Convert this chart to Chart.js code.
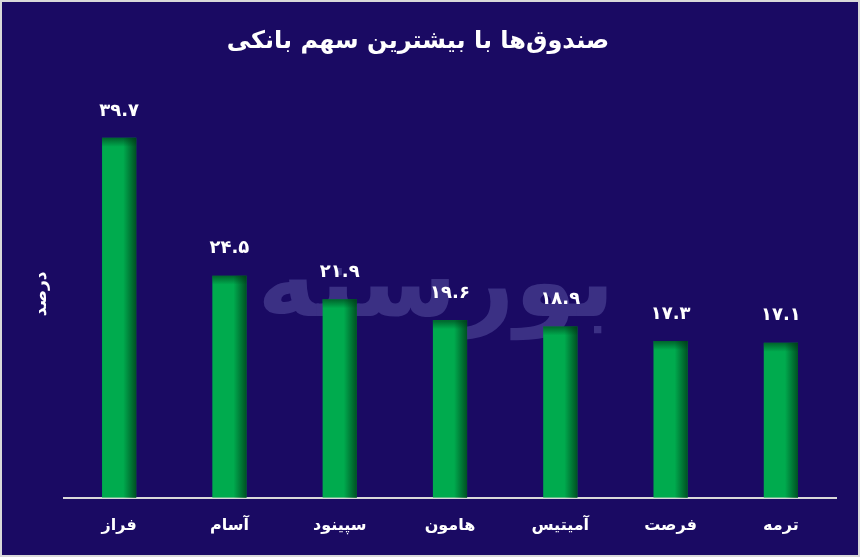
<!DOCTYPE html>
<html>
<head>
<meta charset="utf-8">
<script src="https://cdn.jsdelivr.net/npm/chart.js@4/dist/chart.umd.min.js"></script>
<style>
  html, body { margin: 0; padding: 0; background: #1a0a63; }
  #wrap { width: 860px; height: 557px; }
</style>
</head>
<body>
<div id="wrap"><canvas id="chart" width="860" height="557"></canvas></div>
<script>
const funds = ["فراز", "آسام", "سپینود", "هامون", "آمیتیس", "فرصت", "ترمه"];
const shares = [39.7, 24.5, 21.9, 19.6, 18.9, 17.3, 17.1];
const titleText = "صندوق‌ها با بیشترین سهم بانکی";
const yTitle = "درصد";
const watermark = "بورسنه";

const FONT = "'DejaVu Sans', sans-serif";

// persian digits for the value labels
const toFa = (v) => String(v).replace(/\d/g, (d) => "۰۱۲۳۴۵۶۷۸۹"[d]);

// background, frame and watermark
const backdrop = {
  id: "backdrop",
  beforeDraw(chart) {
    const { ctx, width, height } = chart;
    ctx.save();
    ctx.fillStyle = "#1a0a63";
    ctx.fillRect(0, 0, width, height);
    ctx.strokeStyle = "#d9d9d9";
    ctx.lineWidth = 2;
    ctx.strokeRect(1, 1, width - 2, height - 2);
    ctx.restore();
  },
  beforeDatasetsDraw(chart) {
    const { ctx } = chart;
    ctx.save();
    ctx.fillStyle = "#3b3084";
    ctx.font = "bold 100px " + FONT;
    ctx.textAlign = "center";
    ctx.textBaseline = "middle";
    ctx.fillText(watermark, 436, 290);
    ctx.restore();
  },
};

// shading on the bars and the value labels above them
const barDecor = {
  id: "barDecor",
  afterDatasetsDraw(chart) {
    const { ctx } = chart;
    const meta = chart.getDatasetMeta(0);
    ctx.save();
    meta.data.forEach((bar, i) => {
      const left = bar.x - bar.width / 2;
      const right = bar.x + bar.width / 2;
      const side = ctx.createLinearGradient(left + bar.width * 0.62, 0, right, 0);
      side.addColorStop(0, "rgba(0,50,20,0)");
      side.addColorStop(1, "rgba(0,50,20,0.75)");
      ctx.fillStyle = side;
      ctx.fillRect(left, bar.y, bar.width, bar.base - bar.y);

      const top = ctx.createLinearGradient(0, bar.y, 0, bar.y + 9);
      top.addColorStop(0, "rgba(0,50,20,0.6)");
      top.addColorStop(1, "rgba(0,50,20,0)");
      ctx.fillStyle = top;
      ctx.fillRect(left, bar.y, bar.width, 9);

      ctx.fillStyle = "#ffffff";
      ctx.font = "bold 18px " + FONT;
      ctx.textAlign = "center";
      ctx.textBaseline = "middle";
      ctx.fillText(toFa(shares[i]), bar.x, bar.y - 27);
    });
    ctx.restore();
  },
};

new Chart(document.getElementById("chart"), {
  type: "bar",
  plugins: [backdrop, barDecor],
  data: {
    labels: funds,
    datasets: [{
      data: shares,
      backgroundColor: "#00ab4e",
      borderWidth: 0,
      barPercentage: 0.31,
      categoryPercentage: 1,
    }],
  },
  options: {
    responsive: false,
    animation: false,
    layout: { padding: { left: 0, right: 24, top: 0, bottom: 4 } },
    plugins: {
      legend: { display: false },
      tooltip: { enabled: false },
      title: {
        display: true,
        text: titleText,
        color: "#ffffff",
        font: { family: FONT, size: 24, weight: "bold", lineHeight: 1.2 },
        padding: { top: 27, bottom: 34 },
      },
    },
    scales: {
      x: {
        grid: { display: false, drawTicks: false },
        border: { display: true, color: "#d9d9d9", width: 2 },
        ticks: {
          color: "#ffffff",
          padding: 18,
          font: { family: FONT, size: 16, weight: "bold", lineHeight: 1.2 },
        },
      },
      y: {
        min: 0,
        max: 45,
        grid: { display: false, drawTicks: false },
        border: { display: false },
        ticks: { display: false },
        title: {
          display: true,
          text: yTitle,
          color: "#ffffff",
          font: { family: FONT, size: 17, weight: "bold", lineHeight: 1.2 },
          padding: { top: 31, bottom: 12.6 },
        },
      },
    },
  },
});
</script>
</body>
</html>
